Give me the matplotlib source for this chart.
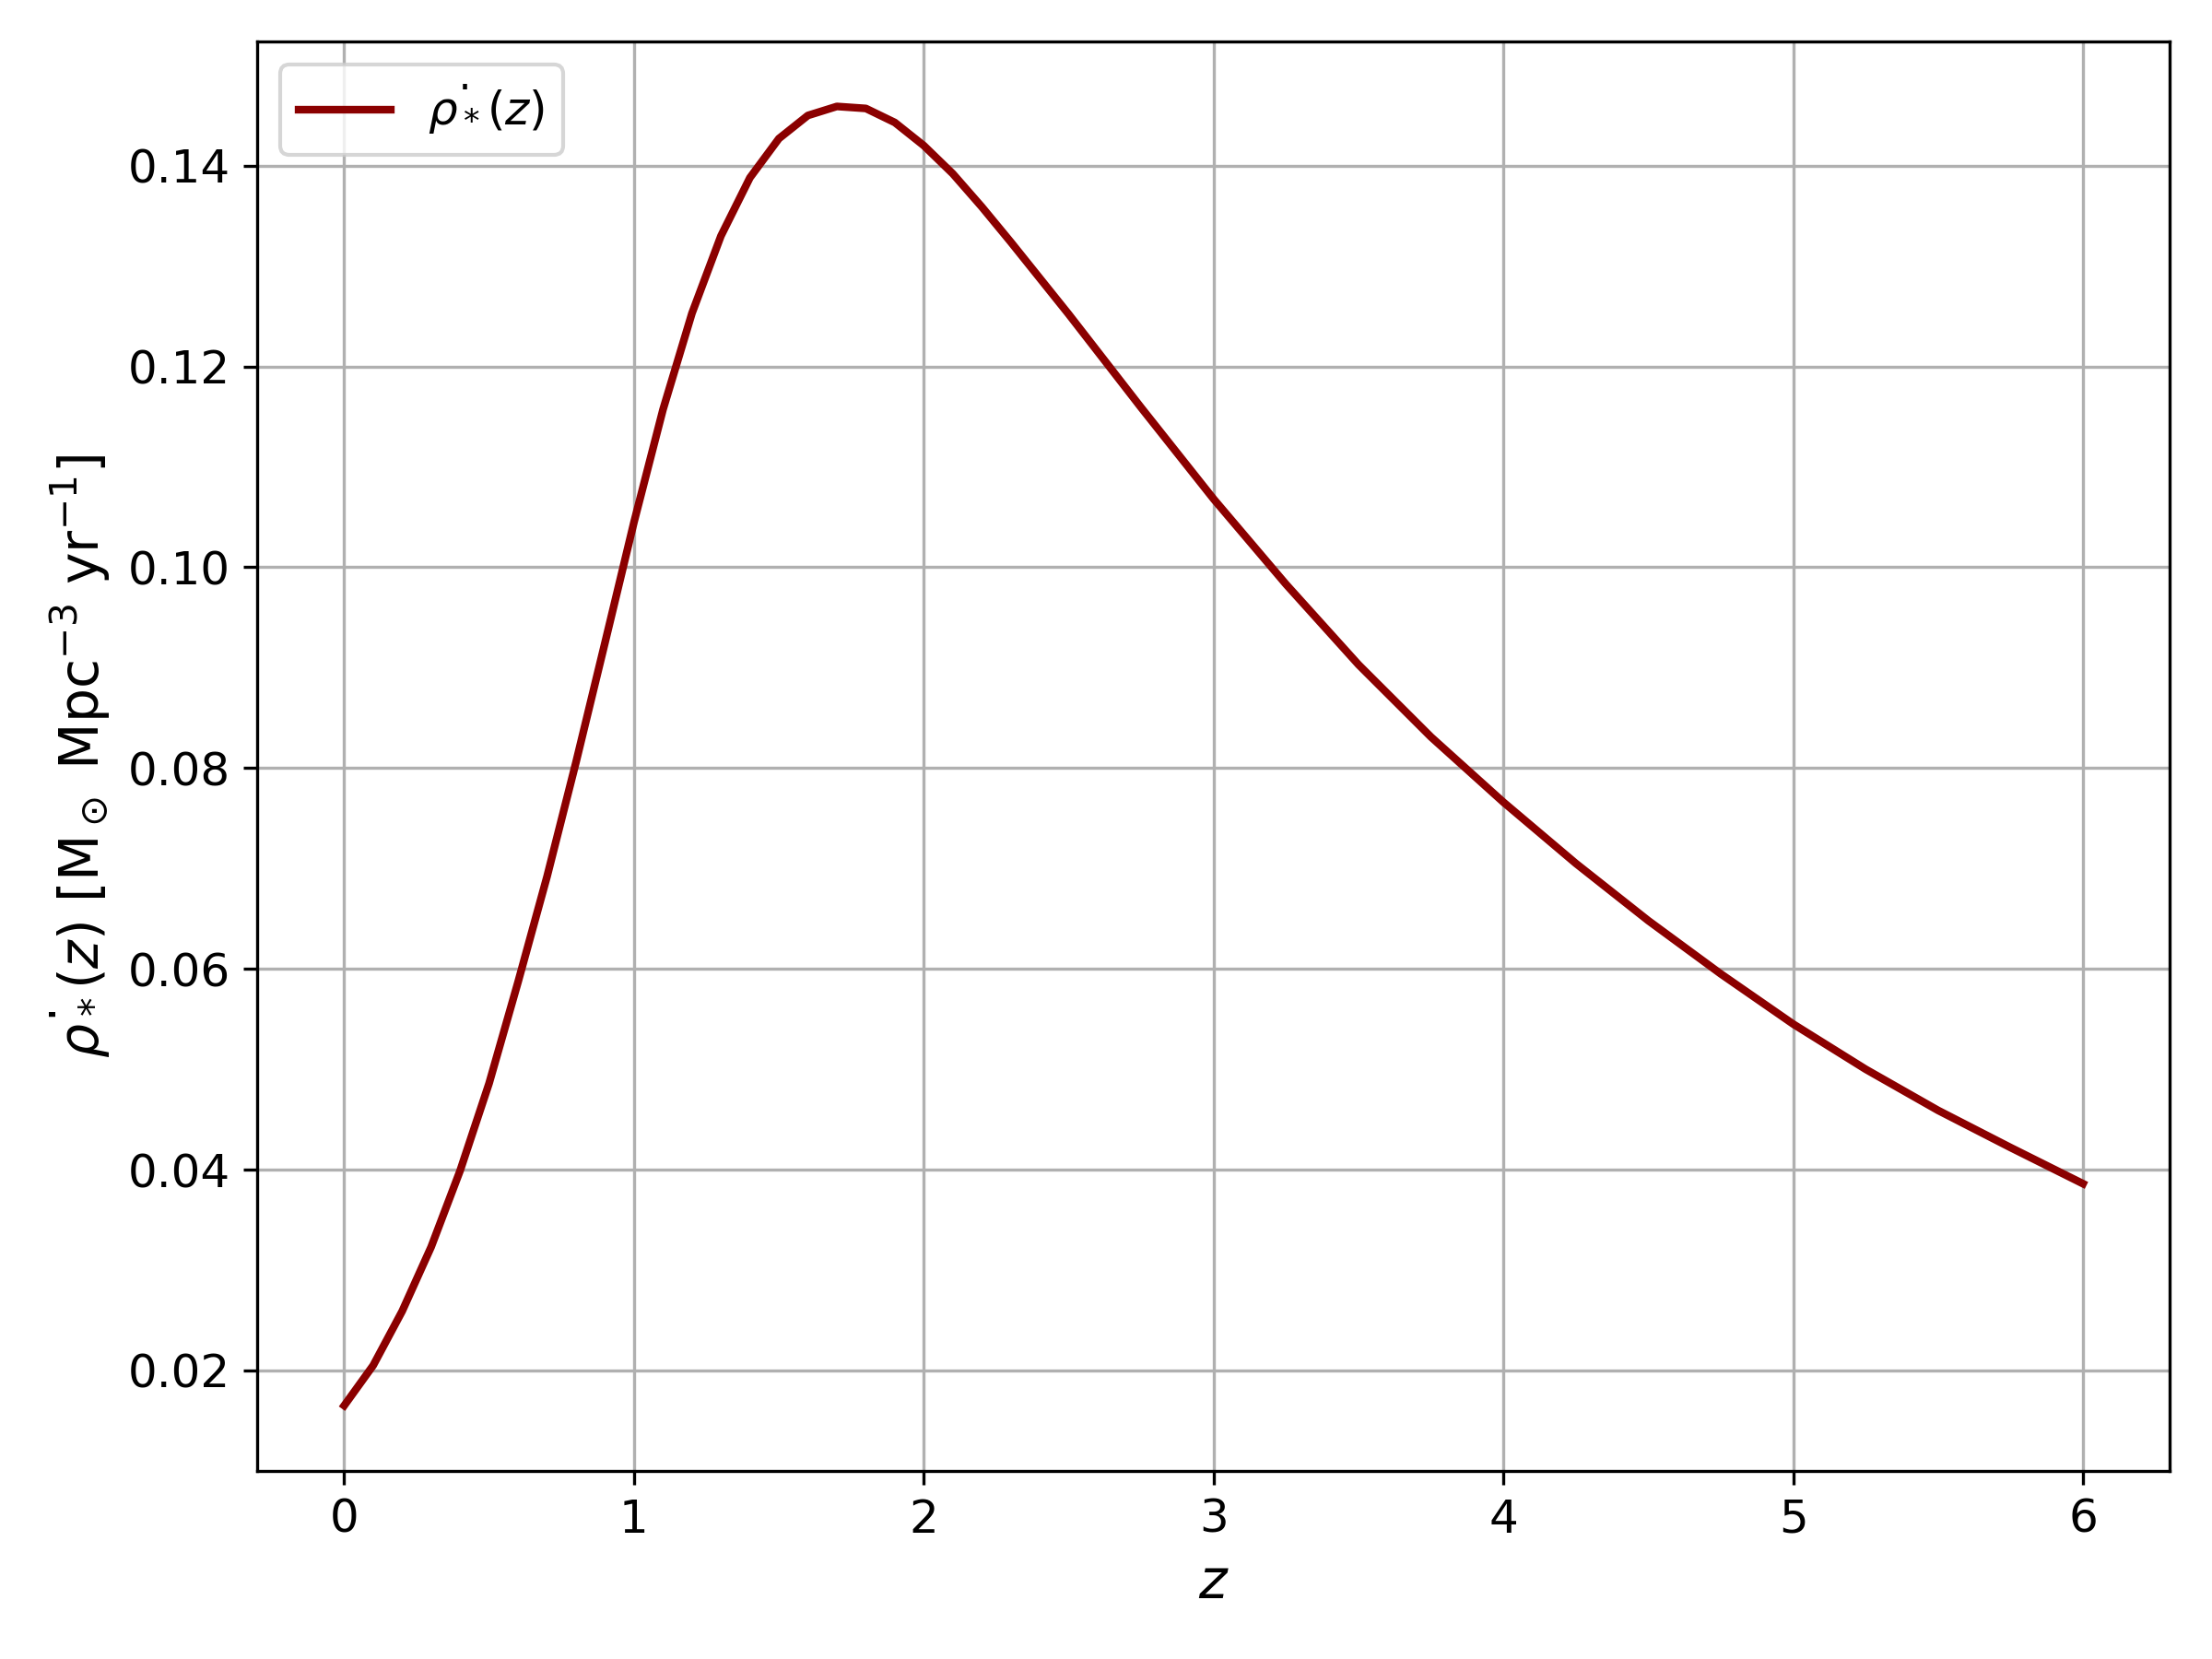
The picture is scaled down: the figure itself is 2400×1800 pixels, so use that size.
import matplotlib.pyplot as plt
import numpy as np

# redshift samples and star formation rate density
z = [0.0, 0.1, 0.2, 0.3, 0.4, 0.5, 0.6, 0.7, 0.8, 0.9,
     1.0, 1.1, 1.2, 1.3, 1.4, 1.5, 1.6, 1.7, 1.8, 1.9,
     2.0, 2.1, 2.2, 2.3, 2.4, 2.5, 2.75, 3.0, 3.25, 3.5,
     3.75, 4.0, 4.25, 4.5, 4.75, 5.0, 5.25, 5.5, 5.75, 6.0]
sfr = [0.0165, 0.0205, 0.0259, 0.0323, 0.0399, 0.0486, 0.0587, 0.0692, 0.0806, 0.0925,
       0.1045, 0.1157, 0.1253, 0.1330, 0.1388, 0.1427, 0.1450, 0.1459, 0.1457, 0.1443,
       0.1420, 0.1392, 0.1359, 0.1324, 0.1288, 0.1252, 0.1159, 0.1068, 0.0983, 0.0903,
       0.0831, 0.0766, 0.0705, 0.0648, 0.0595, 0.0545, 0.0500, 0.0459, 0.0422, 0.0386]

fig, ax = plt.subplots(figsize=(8, 6), dpi=300)
ax.plot(z, sfr, color='darkred', lw=2, label=r'$\dot{\rho_*}(z)$')
ax.set_xlabel(r'$z$', fontsize=14)
ax.set_ylabel(r'$\dot{\rho_*}(z)$ [M$_\odot$ Mpc$^{-3}$ yr$^{-1}$]', fontsize=14)
ax.tick_params(labelsize=12)
ax.grid()
ax.legend(loc='upper left', fontsize=12)
fig.subplots_adjust(left=0.1163, right=0.981, top=0.975, bottom=0.1136)
plt.savefig('out.png')
